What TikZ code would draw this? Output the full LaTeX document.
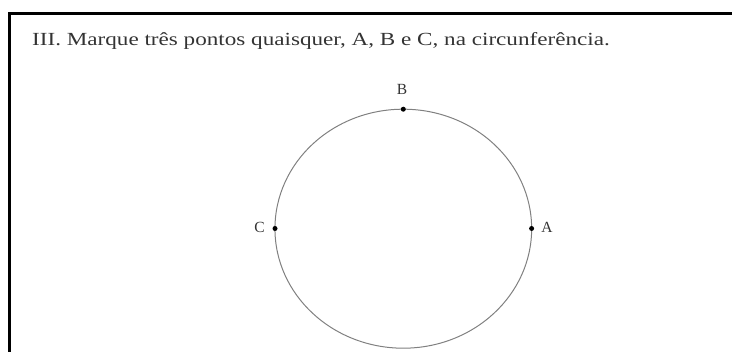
\documentclass[tikz,border=0pt]{standalone}
\usepackage{fontspec}
\usetikzlibrary{shapes.geometric}
\setmainfont{Liberation Serif}
\newfontfamily\widefont[FakeStretch=1.25]{Liberation Serif}
\begin{document}
\begin{tikzpicture}[x=1pt,y=-1pt,
  frame/.style={line width=3pt,black},
  circ/.style={draw=black!50,line width=1pt},
  dotpt/.style={circle,fill=black,inner sep=0pt,minimum size=5pt},
  lbl/.style={text=black!80,font=\fontsize{15.5}{16}\selectfont,inner sep=0pt},
  title/.style={text=black!80,font=\widefont\fontsize{18.5}{19}\selectfont,inner sep=0pt,anchor=base west}]
\useasboundingbox (0,0) rectangle (732,352);
\draw[frame] (9.5,353) -- (9.5,13.5) -- (733,13.5);
\node[title] (t) at (32,45.5) {III. Marque três pontos quaisquer, A, B e C, na circunferência.};
\node[circ,ellipse,inner sep=0pt,minimum width=256.7pt,minimum height=239pt] (e) at (403.3,228.7) {};
\node[dotpt] (A) at (531.6,228.5) {};
\node[dotpt] (B) at (403.3,109.2) {};
\node[dotpt] (C) at (275,228.5) {};
\node[lbl] (la) at (547,227) {A};
\node[lbl] (lb) at (402,89) {B};
\node[lbl] (lc) at (259.5,227) {C};
\end{tikzpicture}
\end{document}
